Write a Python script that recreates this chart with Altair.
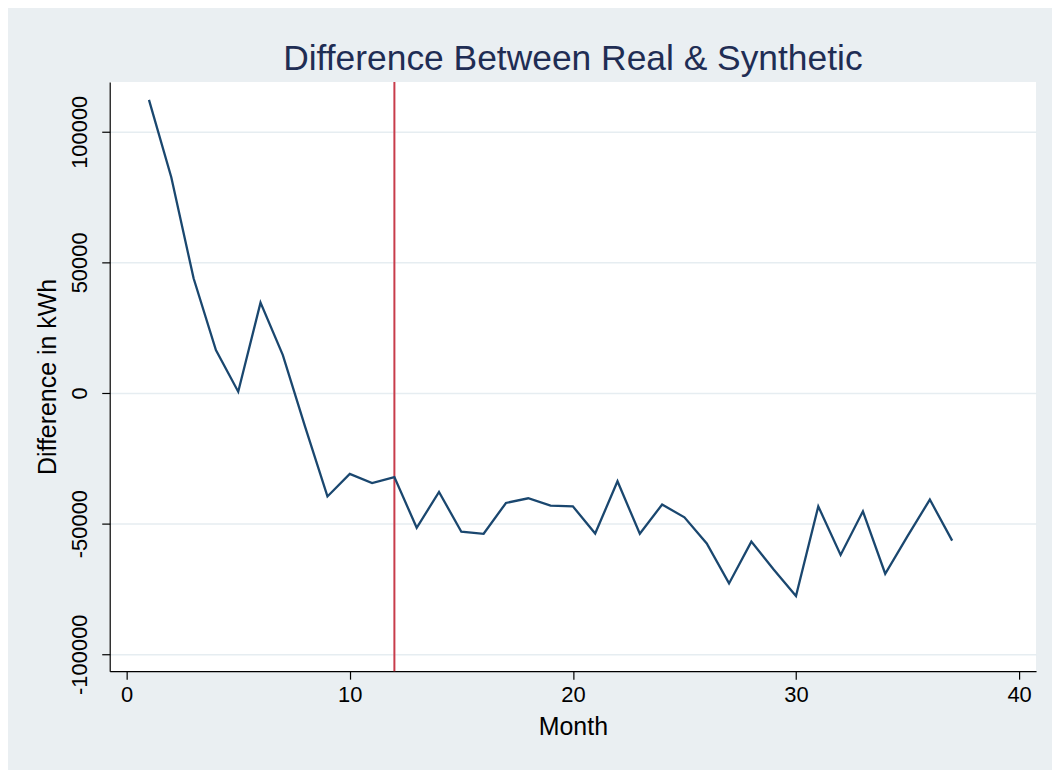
import altair as alt
import pandas as pd

months = list(range(1, 38))
difference = [112200, 82600, 43900, 16400, 500, 34600, 14500, -13000, -39600, -31000,
              -34500, -32200, -51600, -37900, -53100, -53900, -42100, -40300, -43100, -43400,
              -53800, -33800, -53900, -42700, -47600, -57600, -72900, -56900, -67600, -77700,
              -43400, -62000, -45300, -69200, -54800, -40800, -56500]
treatment_month = [12]
x_ticks = [0, 10, 20, 30, 40]
y_ticks = [-100000, -50000, 0, 50000, 100000]

df = pd.DataFrame({"Month": months, "Difference": difference})
rule_df = pd.DataFrame({"Month": treatment_month})

FONT = "Liberation Sans"
x_scale = alt.Scale(domain=[-0.76, 40.76], nice=False, zero=False)
y_scale = alt.Scale(domain=[-106500, 119100], nice=False, zero=False)

x_axis = alt.Axis(values=x_ticks, title="Month", grid=False, labelFontSize=22,
                  titleFontSize=25, labelPadding=5, titlePadding=9, tickSize=8)
y_axis = alt.Axis(values=y_ticks, title="Difference in kWh", grid=True,
                  gridColor="#e6edf1", gridWidth=1.5,
                  labelAngle=270, labelAlign="center", labelBaseline="bottom",
                  labelExpr="'' + datum.value", labelFontSize=22, labelPadding=10,
                  titleFontSize=25, titlePadding=8, tickSize=8)

rule = alt.Chart(rule_df).mark_rule(color="#c83c4b", strokeWidth=2).encode(
    x=alt.X("Month:Q", scale=x_scale, axis=x_axis)
)
line = alt.Chart(df).mark_line(color="#1a476f", strokeWidth=2.3).encode(
    x=alt.X("Month:Q", scale=x_scale, axis=x_axis),
    y=alt.Y("Difference:Q", scale=y_scale, axis=y_axis),
)

chart = alt.layer(rule, line).properties(
    width=929,
    height=591,
    autosize=alt.AutoSizeParams(type="none"),
    padding={"left": 102, "top": 73, "right": 16, "bottom": 98},
    background="#eaeff2",
    title=alt.TitleParams("Difference Between Real & Synthetic", fontSize=35.5,
                          font=FONT, fontWeight="normal", color="#1f2d54",
                          anchor="middle", offset=3),
).configure_view(fill="white", stroke=None).configure_axis(
    labelFont=FONT, titleFont=FONT, labelColor="black", titleColor="black",
    titleFontWeight="normal", domainColor="black", domainWidth=1.2,
    tickColor="black", tickWidth=1.2,
)

chart.save("out.html", embed_options={"renderer": "svg", "actions": False})
